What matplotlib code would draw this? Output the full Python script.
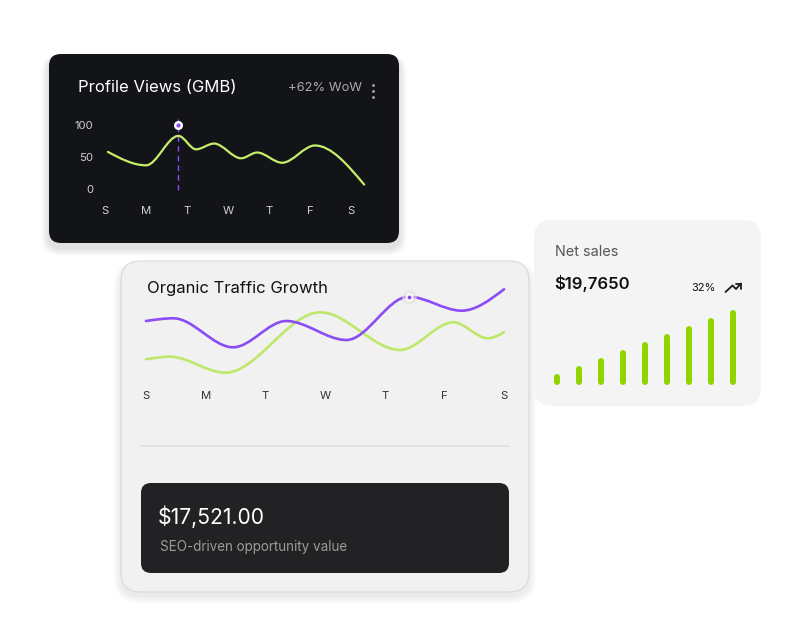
import numpy as np
import matplotlib
matplotlib.use("Agg")
import matplotlib.pyplot as plt
from matplotlib.patches import FancyBboxPatch, Circle, PathPatch
from matplotlib.path import Path

plt.rcParams['font.family'] = ['Inter', 'DejaVu Sans']

# ---------------- data ----------------
day_labels = ["S", "M", "T", "W", "T", "F", "S"]

# Profile Views (GMB) card
pv_x = [0.07, 1.0, 1.79, 2.22, 2.66, 3.32, 3.71, 4.32, 5.12, 6.32]
pv_y = [58, 37, 83, 62, 71, 48, 57, 41, 68, 7]
pv_yticks = [0, 50, 100]
pv_highlight_x = 1.79
pv_title = "Profile Views (GMB)"
pv_change = "+62% WoW"

# Organic Traffic Growth card
ot_purple_x = [0, 0.46, 1.46, 2.35, 3.36, 4.4, 5.29, 6]
ot_purple_y = [59, 61.7, 32.7, 59, 40, 83.3, 69.3, 90.7]
ot_green_x = [0, 0.4, 1.33, 2.92, 4.26, 5.15, 5.73, 6]
ot_green_y = [20.7, 23.3, 7.3, 67.7, 30, 57.7, 41.7, 47.7]
ot_title = "Organic Traffic Growth"
ot_value = "$17,521.00"
ot_caption = "SEO-driven opportunity value"

# Net sales card
ns_values = [11, 19, 27, 35, 43, 51, 59, 67, 75]
ns_title = "Net sales"
ns_total = "$19,7650"
ns_change = "32%"

# ---------------- helpers ----------------
W, H = 798, 626
fig = plt.figure(figsize=(W / 100, H / 100), dpi=100)
fig.patch.set_facecolor("white")
bg = fig.add_axes([0, 0, 1, 1])
bg.set_xlim(0, W)
bg.set_ylim(H, 0)
bg.axis("off")


def px_axes(x0, y0, x1, y1):
    ax = fig.add_axes([x0 / W, 1 - y1 / H, (x1 - x0) / W, (y1 - y0) / H])
    ax.set_facecolor("none")
    for s in ax.spines.values():
        s.set_visible(False)
    return ax


def card(x0, y0, x1, y1, r, fc, ec="none", lw=0, shadow=0.0, sdy=4, z=1):
    if shadow > 0:
        for i in range(10, 0, -1):
            g = i * 1.3
            bg.add_patch(FancyBboxPatch((x0 - g * 0.6, y0 - g * 0.4 + sdy), x1 - x0 + g * 1.2,
                                        y1 - y0 + g * 1.0,
                                        boxstyle=f"round,pad=0,rounding_size={r + g * 0.6}",
                                        fc="black", ec="none", alpha=shadow / 10, zorder=z - 0.5))
    bg.add_patch(FancyBboxPatch((x0, y0), x1 - x0, y1 - y0,
                                boxstyle=f"round,pad=0,rounding_size={r}",
                                fc=fc, ec=ec, lw=lw, zorder=z))


def monotone_path(xs, ys):
    xs = np.asarray(xs, float)
    ys = np.asarray(ys, float)
    n = len(xs)
    h = np.diff(xs)
    s = np.diff(ys) / h
    t = np.zeros(n)
    for i in range(1, n - 1):
        h0, h1 = h[i - 1], h[i]
        s0, s1 = s[i - 1], s[i]
        p = (s0 * h1 + s1 * h0) / (h0 + h1)
        t[i] = (np.sign(s0) + np.sign(s1)) * min(abs(s0), abs(s1), 0.5 * abs(p))
    t[0] = (3 * s[0] - t[1]) / 2
    t[-1] = (3 * s[-1] - t[-2]) / 2
    verts = [(xs[0], ys[0])]
    codes = [Path.MOVETO]
    for i in range(n - 1):
        dx = h[i] / 3
        verts += [(xs[i] + dx, ys[i] + dx * t[i]),
                  (xs[i + 1] - dx, ys[i + 1] - dx * t[i + 1]),
                  (xs[i + 1], ys[i + 1])]
        codes += [Path.CURVE4] * 3
    return Path(verts, codes)


PURPLE = "#8b4cf6"
LIME = "#c6ee6a"

# ---------------- card 1: Profile Views ----------------
card(49, 54, 399, 243, 12, "#121418", shadow=0.10, sdy=5)
bg.text(78, 87, pv_title, color="white", fontsize=12, ha="left", va="center", zorder=5)
bg.text(362, 88, pv_change, color="#a9a9a9", fontsize=9.3, ha="right", va="center", zorder=5)
for yy in (85.5, 91.5, 97.5):
    bg.add_patch(Circle((373.5, yy), 1.4, fc="#a9a9a9", ec="none", zorder=5))

ax1 = px_axes(100, 110, 370, 195)
u1 = 41.0
ax1.set_xlim((100 - 105) / u1, (370 - 105) / u1)
ax1.set_ylim((189 - 195) / 0.64, (189 - 110) / 0.64)
ax1.add_patch(PathPatch(monotone_path(pv_x, pv_y), fc="none", ec=LIME, lw=1.6,
                        capstyle="round", zorder=3))
ax1.plot([pv_highlight_x, pv_highlight_x], [-1.5, 110], color=PURPLE, lw=1.0,
         dashes=(4, 3), zorder=2)
ax1.scatter([pv_highlight_x], [100], s=42, color="white", zorder=4, linewidths=0)
ax1.scatter([pv_highlight_x], [100], s=9, color=PURPLE, zorder=5, linewidths=0)
ax1.set_xticks(range(7))
ax1.set_xticklabels(day_labels)
ax1.set_yticks(pv_yticks)
ax1.set_yticklabels([str(v) for v in pv_yticks])
ax1.tick_params(axis="both", length=0, colors="#d0d0d0", labelsize=8.2)
ax1.tick_params(axis="x", pad=8)
ax1.tick_params(axis="y", pad=5)

# ---------------- card 2: Organic Traffic Growth ----------------
card(121, 261, 529, 592, 20, "#f1f1f1", ec="#d9d9d9", lw=0.8, shadow=0.09, sdy=4)
bg.text(147, 288, ot_title, color="#111111", fontsize=12, ha="left", va="center", zorder=5)
bg.plot([141, 509], [446, 446], color="#e0e0e0", lw=1.2, zorder=5)
card(141, 483, 509, 573, 10, "#222224", z=5)
bg.text(158, 517, ot_value, color="white", fontsize=15.2, ha="left", va="center", zorder=6)
bg.text(160, 547, ot_caption, color="#9a9a9a", fontsize=9.7, ha="left", va="center", zorder=6)

ax2 = px_axes(138, 282, 512, 380)
u2 = (504 - 146) / 6
ax2.set_xlim((138 - 146) / u2, (512 - 146) / u2)
ax2.set_ylim(380 - 380, 380 - 282)
ax2.add_patch(PathPatch(monotone_path(ot_green_x, ot_green_y), fc="none", ec="#bfe86a",
                        lw=1.9, capstyle="round", zorder=3))
ax2.add_patch(PathPatch(monotone_path(ot_purple_x, ot_purple_y), fc="none", ec=PURPLE,
                        lw=1.9, capstyle="round", zorder=4))
ax2.scatter([ot_purple_x[5]], [ot_purple_y[5]], s=110, color="#e4e4e4", alpha=0.6,
            zorder=5, linewidths=0)
ax2.scatter([ot_purple_x[5]], [ot_purple_y[5]], s=30, color="white", zorder=6, linewidths=0)
ax2.scatter([ot_purple_x[5]], [ot_purple_y[5]], s=8, color=PURPLE, zorder=7, linewidths=0)
ax2.set_xticks(range(7))
ax2.set_xticklabels(day_labels)
ax2.set_yticks([])
ax2.tick_params(axis="x", length=0, colors="#333333", labelsize=8.2, pad=8)

# ---------------- card 3: Net sales ----------------
card(534, 220, 761, 406, 18, "#f4f4f4", shadow=0.012, sdy=1)
bg.text(555, 252, ns_title, color="#555555", fontsize=10.4, ha="left", va="center", zorder=5)
bg.text(554, 283, ns_total, color="#111111", fontsize=12, fontweight="semibold",
        ha="left", va="center", zorder=5)
bg.text(716, 288, ns_change, color="#111111", fontsize=8, ha="right", va="center", zorder=5)
# trend-up icon
bg.plot([725.5, 732.5, 736, 741], [292, 285.5, 289, 283.5], color="#1a1a1a", lw=1.3,
        solid_capstyle="round", solid_joinstyle="round", zorder=5)
bg.plot([735.5, 741, 741], [283.5, 283.5, 289], color="#1a1a1a", lw=1.3,
        solid_capstyle="round", solid_joinstyle="round", zorder=5)

ax3 = px_axes(545, 300, 745, 385)
u3 = (733 - 556.7) / 8
ax3.set_xlim((545 - 556.7) / u3, (745 - 556.7) / u3)
ax3.set_ylim(0, 85)
lc = ax3.vlines(range(len(ns_values)), 3, np.array(ns_values) - 3, color="#90d500",
                lw=6 * 0.72)
lc.set_capstyle("round")
ax3.set_xticks([])
ax3.set_yticks([])

fig.savefig("out.png", dpi=100, facecolor="white")
